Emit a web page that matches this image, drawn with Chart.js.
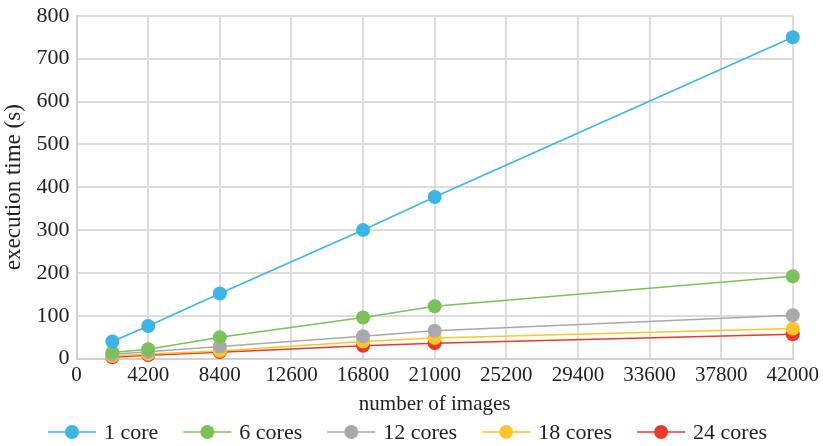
<!DOCTYPE html>
<html>
<head>
<meta charset="utf-8">
<script src="https://cdn.jsdelivr.net/npm/chart.js@4"></script>
<style>
  html, body { margin: 0; padding: 0; background: #fff; }
  #wrap { width: 823px; height: 446px; }
</style>
</head>
<body>
<div id="wrap"><canvas id="c" width="823" height="446"></canvas></div>
<script>
// number of images processed in each run
const images = [2100, 4200, 8400, 16800, 21000, 42000];

// execution time in seconds for each core count
const oneCore = [40, 76, 152, 300, 377, 750];
const sixCores = [14, 22, 50, 96, 122, 192];
const twelveCores = [10, 16, 28, 52, 65, 101];
const eighteenCores = [6, 11, 18, 40, 48, 70];
const twentyFourCores = [3, 8, 15, 30, 36, 57];

const seriesNames = ['1 core', '6 cores', '12 cores', '18 cores', '24 cores'];
const seriesValues = [oneCore, sixCores, twelveCores, eighteenCores, twentyFourCores];
const seriesColors = ['#3db4e7', '#7cc05a', '#a9a9ad', '#fcc52a', '#e8392b'];

const FONT = '"Liberation Serif", "Times New Roman", serif';
const TEXT = '#222';

// legend row along the bottom: short line with a dot, then the label
const lineLegend = {
  id: 'lineLegend',
  afterDraw(chart) {
    const ctx = chart.ctx;
    const y = 432;
    const lineLen = 48, gap = 8, spacing = 25;
    ctx.save();
    ctx.font = '22px ' + FONT;
    const items = chart.data.datasets.map(d => ({
      d, w: lineLen + gap + ctx.measureText(d.label).width
    }));
    const total = items.reduce((s, it) => s + it.w, 0) + spacing * (items.length - 1);
    let x = (chart.width - total) / 2 - 4;
    items.forEach(it => {
      const c = it.d.borderColor;
      ctx.strokeStyle = c; ctx.lineWidth = 1.5;
      ctx.beginPath(); ctx.moveTo(x, y); ctx.lineTo(x + lineLen, y); ctx.stroke();
      ctx.fillStyle = c;
      ctx.beginPath(); ctx.arc(x + lineLen / 2, y, 7, 0, Math.PI * 2); ctx.fill();
      ctx.fillStyle = TEXT;
      ctx.textBaseline = 'middle';
      ctx.textAlign = 'left';
      ctx.fillText(it.d.label, x + lineLen + gap, y + 1);
      x += it.w + spacing;
    });
    ctx.restore();
  }
};

const datasets = seriesNames.map((name, i) => ({
  label: name,
  data: images.map((x, j) => ({ x: x, y: seriesValues[i][j] })),
  borderColor: seriesColors[i],
  backgroundColor: seriesColors[i],
  borderWidth: 1.5,
  pointRadius: 7,
  pointHoverRadius: 7,
  pointBorderWidth: 0,
  pointStyle: 'circle',
  clip: false,
  tension: 0
}));

new Chart(document.getElementById('c'), {
  type: 'line',
  data: { datasets: datasets },
  plugins: [lineLegend],
  options: {
    responsive: false,
    animation: false,
    layout: { padding: { left: 0, right: 29, top: 0, bottom: 29 } },
    plugins: {
      legend: { display: false },
      tooltip: { enabled: false }
    },
    scales: {
      x: {
        type: 'linear',
        min: 0,
        max: 42000,
        ticks: {
          stepSize: 4200,
          color: TEXT,
          font: { family: FONT, size: 21 },
          maxRotation: 0,
          padding: 4,
          callback: v => String(v)
        },
        grid: { color: '#dcdcdc', lineWidth: 2, drawTicks: false },
        border: { color: '#d0d0d0', width: 2 },
        title: {
          display: true,
          text: 'number of images',
          color: TEXT,
          font: { family: FONT, size: 21 },
          padding: { top: 0, bottom: 0 }
        }
      },
      y: {
        min: 0,
        max: 800,
        ticks: {
          stepSize: 100,
          color: TEXT,
          font: { family: FONT, size: 22, lineHeight: 0.8 },
          padding: 7
        },
        grid: { color: '#dcdcdc', lineWidth: 2, drawTicks: false },
        border: { color: '#d0d0d0', width: 2 },
        title: {
          display: true,
          text: 'execution time (s)',
          color: TEXT,
          font: { family: FONT, size: 23 },
          padding: { top: 0, bottom: 2 }
        }
      }
    }
  }
});
</script>
</body>
</html>
